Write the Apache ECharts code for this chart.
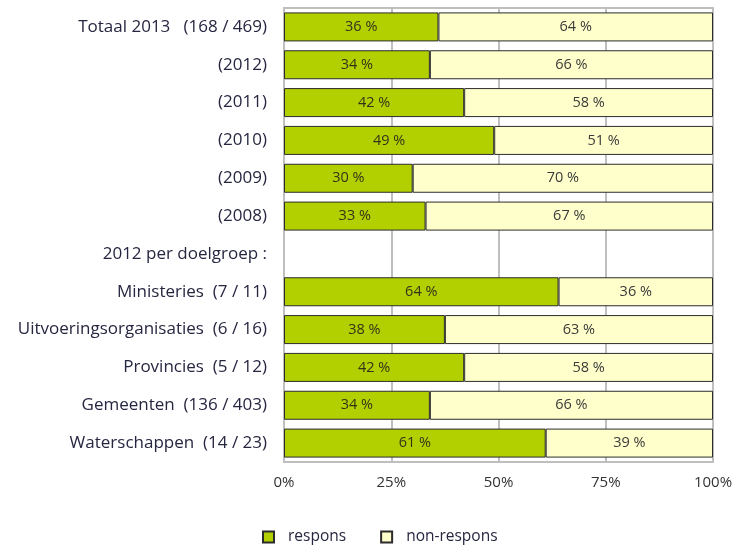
<!DOCTYPE html>
<html><head><meta charset="utf-8">
<script src="https://cdn.jsdelivr.net/npm/echarts@6/dist/echarts.min.js"></script>
<style>html,body{margin:0;padding:0;background:#fff}#c{width:736px;height:546px}</style>
</head><body><div id="c"></div>
<script>
var categories = ['Totaal 2013   (168 / 469)','(2012)','(2011)','(2010)','(2009)','(2008)','2012 per doelgroep :','Ministeries  (7 / 11)','Uitvoeringsorganisaties  (6 / 16)','Provincies  (5 / 12)','Gemeenten  (136 / 403)','Waterschappen  (14 / 23)'];
var respons = [36,34,42,49,30,33,null,64,37.5,42,34,61];
var nonRespons = [64,66,58,51,70,67,null,36,62.5,58,66,39];
var xTicks = [0,25,50,75,100];

var font = 'Open Sans';
var chart = echarts.init(document.getElementById('c'));
function lbl(p){ return p.value == null ? '' : Math.round(p.value) + ' %'; }
chart.setOption({
  animation:false,
  textStyle:{fontFamily:font},
  grid:{left:284,right:23,top:8,bottom:84,show:true,borderColor:'#bfbfbf',borderWidth:2,backgroundColor:'#fff'},
  legend:{left:262,top:529,padding:0,itemWidth:11,itemHeight:11,itemGap:34,
    textStyle:{fontFamily:font,fontSize:15.5,color:'#262640',padding:[0,0,0,9]},
    data:[{name:'respons',icon:'rect'},{name:'non-respons',icon:'rect'}]},
  xAxis:{type:'value',min:0,max:100,interval:25,
    axisLine:{show:false},axisTick:{show:false},
    splitLine:{show:true,lineStyle:{color:'#bfbfbf',width:2}},
    axisLabel:{fontFamily:font,fontSize:15,color:'#333',margin:13,formatter:function(v){return xTicks.indexOf(v)>=0? v+'%':'';}}},
  yAxis:{type:'category',inverse:true,data:categories,
    axisLine:{show:false},axisTick:{show:false},
    axisLabel:{fontFamily:font,fontSize:17,color:'#262640',margin:17}},
  series:[
    {name:'respons',type:'bar',stack:'t',data:respons,barWidth:29,
     itemStyle:{color:'#b2d000',borderColor:'#2b2b2b',borderWidth:1},
     label:{show:true,position:'inside',formatter:lbl,fontFamily:font,fontSize:14.5,color:'#33331a'}},
    {name:'non-respons',type:'bar',stack:'t',data:nonRespons,barWidth:29,
     itemStyle:{color:'#ffffcc',borderColor:'#2b2b2b',borderWidth:1},
     label:{show:true,position:'inside',formatter:lbl,fontFamily:font,fontSize:14.5,color:'#3a3a3a'}}
  ]
});
</script></body></html>
